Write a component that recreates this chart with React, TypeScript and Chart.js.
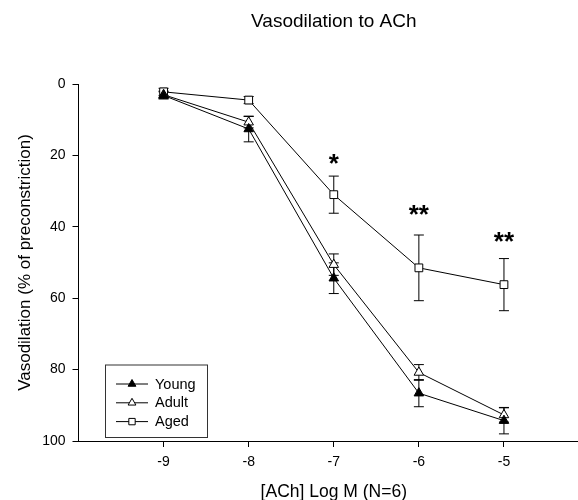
import React, { useEffect, useRef } from "react";
import { Chart, registerables } from "chart.js";
import { drawPoint } from "chart.js/helpers";

Chart.register(...registerables);

const doses = [-9, -8, -7, -6, -5];
const youngMean = [3.2, 12.6, 54.4, 86.6, 94.3];
const youngErr = [1.0, 3.6, 4.3, 3.8, 3.7];
const adultMean = [3.0, 10.7, 50.6, 80.8, 92.7];
const adultErr = [1.0, 1.6, 3.0, 2.2, 2.0];
const agedMean = [2.2, 4.5, 31.0, 51.5, 56.2];
const agedErr = [1.0, 1.0, 5.2, 9.2, 7.3];
const starDoses = [-7, -6, -5];
const starLabels = ["*", "**", "**"];
const starLevels = [21.1, 35.3, 42.8];
const xTicks = [-9, -8, -7, -6, -5];
const seriesNames = ["Young", "Adult", "Aged"];
const chartTitle = "Vasodilation to ACh";
const xTitle = "[ACh] Log M (N=6)";
const yTitle = "Vasodilation (% of preconstriction)";

const FONT = "'Liberation Sans', Arial, sans-serif";

const errorBarPlugin = {
  id: "errorBars",
  beforeDatasetsDraw(chart: any) {
    const ctx = chart.ctx;
    const xs = chart.scales.x;
    const ys = chart.scales.y;
    ctx.save();
    ctx.strokeStyle = "#000";
    ctx.lineWidth = 1;
    chart.data.datasets.forEach((ds: any) => {
      ds.data.forEach((p: any, i: number) => {
        const e = ds.errors[i];
        const x = xs.getPixelForValue(p.x);
        const y1 = ys.getPixelForValue(p.y - e);
        const y2 = ys.getPixelForValue(p.y + e);
        ctx.beginPath();
        ctx.moveTo(x, y1);
        ctx.lineTo(x, y2);
        ctx.moveTo(x - 5, y1);
        ctx.lineTo(x + 5, y1);
        ctx.moveTo(x - 5, y2);
        ctx.lineTo(x + 5, y2);
        ctx.stroke();
      });
    });
    ctx.restore();
  },
};

const annotationPlugin = {
  id: "annotations",
  afterDraw(chart: any) {
    const ctx = chart.ctx;
    const xs = chart.scales.x;
    const ys = chart.scales.y;
    const area = chart.chartArea;
    ctx.save();
    ctx.fillStyle = "#000";
    // stars
    ctx.font = `bold 26px ${FONT}`;
    ctx.textAlign = "center";
    ctx.textBaseline = "alphabetic";
    starDoses.forEach((d, i) => {
      ctx.fillText(starLabels[i], xs.getPixelForValue(d), ys.getPixelForValue(starLevels[i]) + 13);
    });
    const cx = xs.getPixelForValue(-7);
    // title
    ctx.font = `19px ${FONT}`;
    ctx.textBaseline = "middle";
    ctx.fillText(chartTitle, cx, 22);
    // x title
    ctx.font = `17.5px ${FONT}`;
    ctx.fillText(xTitle, cx, 492);
    // y title
    ctx.save();
    ctx.translate(25, (area.top + area.bottom) / 2);
    ctx.rotate(-Math.PI / 2);
    ctx.font = `17px ${FONT}`;
    ctx.fillText(yTitle, 0, 0);
    ctx.restore();
    // legend
    const lx = 105.5, ly = 365, lw = 102, lh = 72.5;
    ctx.strokeStyle = "#333";
    ctx.lineWidth = 1;
    ctx.strokeRect(lx, ly, lw, lh);
    ctx.font = `14.5px ${FONT}`;
    ctx.textAlign = "left";
    chart.data.datasets.forEach((ds: any, i: number) => {
      const y = 384 + i * 18.8;
      ctx.strokeStyle = "#000";
      ctx.beginPath();
      ctx.moveTo(116, y);
      ctx.lineTo(148, y);
      ctx.stroke();
      ctx.fillStyle = ds.pointBackgroundColor;
      ctx.strokeStyle = "#000";
      drawPoint(ctx, { pointStyle: ds.pointStyle, radius: 4.5, borderWidth: 1, rotation: 0 }, 132, y);
      ctx.fillStyle = "#000";
      ctx.fillText(seriesNames[i], 155, y + 0.5);
    });
    ctx.restore();
  },
};

export default function App() {
  const ref = useRef<HTMLCanvasElement | null>(null);
  useEffect(() => {
    if (!ref.current) return;
    const mk = (m: number[]) => m.map((v, i) => ({ x: doses[i], y: v }));
    const base = {
      borderColor: "#000",
      borderWidth: 1,
      pointBorderColor: "#000",
      pointBorderWidth: 1,
      pointRadius: 5.5,
      tension: 0,
      fill: false,
      clip: false,
    };
    const chart = new Chart(ref.current, {
      type: "line",
      data: {
        datasets: [
          { ...base, label: seriesNames[0], data: mk(youngMean), errors: youngErr, pointStyle: "triangle", pointBackgroundColor: "#000" } as any,
          { ...base, label: seriesNames[1], data: mk(adultMean), errors: adultErr, pointStyle: "triangle", pointBackgroundColor: "#fff" } as any,
          { ...base, label: seriesNames[2], data: mk(agedMean), errors: agedErr, pointStyle: "rect", pointRadius: 5.5, pointBackgroundColor: "#fff" } as any,
        ],
      },
      options: {
        animation: false,
        responsive: true,
        maintainAspectRatio: false,
        layout: { autoPadding: false, padding: { top: 84, left: 0, right: 0, bottom: 0 } },
        plugins: { legend: { display: false }, title: { display: false }, tooltip: { enabled: false } },
        scales: {
          x: {
            type: "linear",
            min: -10,
            max: -4.13,
            afterBuildTicks: (s: any) => {
              s.ticks = xTicks.map((v) => ({ value: v }));
            },
            afterFit: (s: any) => {
              s.height = 59;
            },
            grid: { display: true, drawOnChartArea: false, drawTicks: true, tickLength: 6, color: "#000", lineWidth: 1 },
            border: { display: true, color: "#000", width: 1 },
            ticks: { color: "#000", font: { family: FONT, size: 14 }, padding: 7, autoSkip: false, maxRotation: 0 },
          },
          y: {
            type: "linear",
            reverse: true,
            min: 0,
            max: 100,
            afterFit: (s: any) => {
              s.width = 78.5;
            },
            grid: { display: true, drawOnChartArea: false, drawTicks: true, tickLength: 6, color: "#000", lineWidth: 1 },
            border: { display: true, color: "#000", width: 1 },
            ticks: { stepSize: 20, color: "#000", font: { family: FONT, size: 14 }, padding: 7 },
          },
        },
      } as any,
      plugins: [errorBarPlugin, annotationPlugin],
    });
    return () => chart.destroy();
  }, []);
  return (
    <div style={{ position: "absolute", left: 0, top: 0, width: 578, height: 500, overflow: "hidden", background: "#fff" }}>
      <canvas ref={ref} style={{ display: "block" }} />
    </div>
  );
}
